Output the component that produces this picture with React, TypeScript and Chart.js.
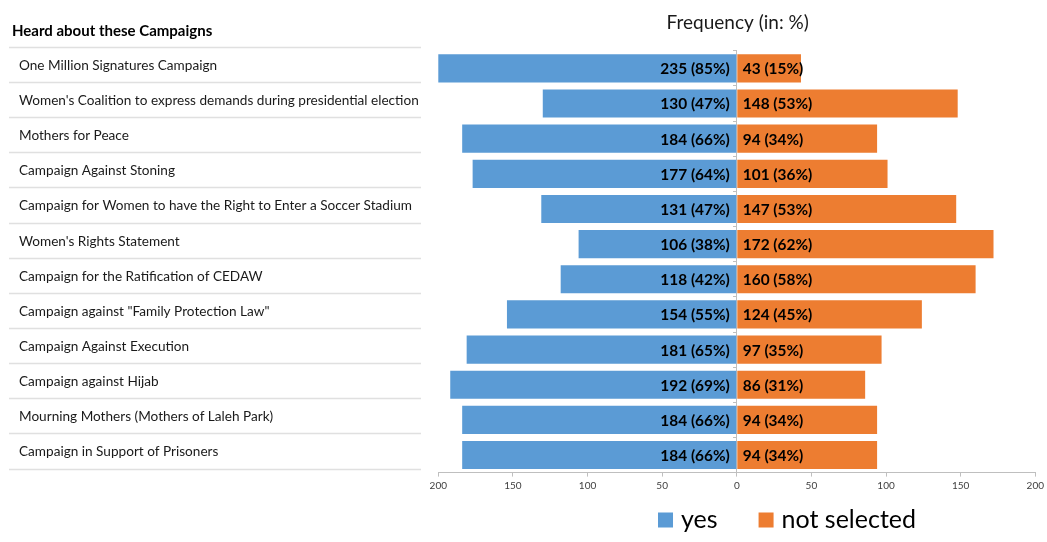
import React, { useEffect, useRef } from "react";
import { Chart, registerables } from "chart.js";

Chart.register(...registerables);

const categories = [
  "One Million Signatures Campaign",
  "Women's Coalition to express demands during presidential election",
  "Mothers for Peace",
  "Campaign Against Stoning",
  "Campaign for Women to have the Right to Enter a Soccer Stadium",
  "Women's Rights Statement",
  "Campaign for the Ratification of CEDAW",
  'Campaign against "Family Protection Law"',
  "Campaign Against Execution",
  "Campaign against Hijab",
  "Mourning Mothers (Mothers of Laleh Park)",
  "Campaign in Support of Prisoners",
];
const yesCounts = [235, 130, 184, 177, 131, 106, 118, 154, 181, 192, 184, 184];
const yesPercents = [85, 47, 66, 64, 47, 38, 42, 55, 65, 69, 66, 66];
const notSelectedCounts = [43, 148, 94, 101, 147, 172, 160, 124, 97, 86, 94, 94];
const notSelectedPercents = [15, 53, 34, 36, 53, 62, 58, 45, 35, 31, 34, 34];
const seriesNames = ["yes", "not selected"];
const tableHeader = "Heard about these Campaigns";
const chartTitle = "Frequency (in: %)";

const FONT = "Lato, 'Open Sans', sans-serif";
const BLUE = "#5B9BD5";
const ORANGE = "#ED7D31";

const tablePlugin = {
  id: "leftTable",
  afterDraw(chart: any) {
    const ctx = chart.ctx;
    const y = chart.scales.y;
    const labels = chart.data.labels as string[];
    const step = y.getPixelForValue(1) - y.getPixelForValue(0);
    const shift = -4;
    ctx.save();
    ctx.textBaseline = "middle";
    ctx.textAlign = "left";
    ctx.fillStyle = "#000000";
    ctx.font = `bold 15px ${FONT}`;
    ctx.fillText(tableHeader, 12, 31);
    ctx.strokeStyle = "#e0e0e0";
    ctx.lineWidth = 1.5;
    for (let i = 0; i <= labels.length; i++) {
      const ly = Math.round(y.getPixelForValue(i) - step / 2 + shift) + 0.5;
      ctx.beginPath();
      ctx.moveTo(9, ly);
      ctx.lineTo(421, ly);
      ctx.stroke();
    }
    ctx.font = `13.6px ${FONT}`;
    ctx.fillStyle = "#1a1a1a";
    labels.forEach((lab, i) => {
      ctx.fillText(lab, 19, y.getPixelForValue(i) + shift + 1);
    });
    ctx.restore();
  },
};

const valueLabelPlugin = {
  id: "valueLabels",
  afterDatasetsDraw(chart: any) {
    const ctx = chart.ctx;
    const zero = chart.scales.x.getPixelForValue(0);
    ctx.save();
    ctx.font = `bold 15.4px ${FONT}`;
    ctx.fillStyle = "#000000";
    ctx.textBaseline = "middle";
    const pcts = [yesPercents, notSelectedPercents];
    chart.data.datasets.forEach((ds: any, di: number) => {
      const meta = chart.getDatasetMeta(di);
      meta.data.forEach((bar: any, i: number) => {
        const txt = `${Math.abs(ds.data[i])} (${pcts[di][i]}%)`;
        if (di === 0) {
          ctx.textAlign = "right";
          ctx.fillText(txt, zero - 7, bar.y + 1);
        } else {
          ctx.textAlign = "left";
          ctx.fillText(txt, zero + 6, bar.y + 1);
        }
      });
    });
    ctx.restore();
  },
};

const legendPlugin = {
  id: "customLegend",
  afterDraw(chart: any) {
    const ctx = chart.ctx;
    ctx.save();
    ctx.font = `25px ${FONT}`;
    ctx.textBaseline = "middle";
    ctx.textAlign = "left";
    const box = 15;
    const gapBoxText = 8;
    const gapItems = 41;
    const items = chart.data.datasets.map((d: any) => ({
      label: d.label,
      color: d.backgroundColor,
      w: ctx.measureText(d.label).width,
    }));
    const total =
      items.reduce((s: number, it: any) => s + box + gapBoxText + it.w, 0) +
      gapItems * (items.length - 1);
    let x = 787 - total / 2;
    const cy = 520;
    items.forEach((it: any) => {
      ctx.fillStyle = it.color;
      ctx.fillRect(x, cy - box / 2, box, box);
      x += box + gapBoxText;
      ctx.fillStyle = "#000000";
      ctx.fillText(it.label, x, cy);
      x += it.w + gapItems;
    });
    ctx.restore();
  },
};

export default function App() {
  const ref = useRef<HTMLCanvasElement>(null);
  useEffect(() => {
    if (!ref.current) return;
    const chart = new Chart(ref.current, {
      type: "bar",
      data: {
        labels: categories,
        datasets: [
          {
            label: seriesNames[0],
            data: yesCounts.map((v) => -v),
            backgroundColor: BLUE,
            barPercentage: 0.8,
            categoryPercentage: 1,
          },
          {
            label: seriesNames[1],
            data: notSelectedCounts,
            backgroundColor: ORANGE,
            barPercentage: 0.8,
            categoryPercentage: 1,
          },
        ],
      },
      options: {
        indexAxis: "y",
        responsive: false,
        animation: false,
        layout: { padding: { left: 438.3, right: 9.9, top: 0, bottom: 49.4 } },
        plugins: {
          legend: { display: false },
          tooltip: { enabled: false },
          title: {
            display: true,
            text: chartTitle,
            color: "#1a1a1a",
            font: { family: FONT, size: 19, weight: "normal" },
            padding: { top: 11, bottom: 17 },
          },
        },
        scales: {
          x: {
            type: "linear",
            min: -200,
            max: 200,
            stacked: true,
            afterFit: (s: any) => {
              s.height = 20;
            },
            ticks: {
              stepSize: 50,
              callback: (v: any) => String(Math.abs(Number(v))),
              font: { family: FONT, size: 10 },
              color: "#404040",
              padding: 3,
              maxRotation: 0,
            },
            grid: {
              drawOnChartArea: false,
              drawTicks: true,
              tickLength: 4,
              color: "#bfbfbf",
            },
            border: { color: "#bfbfbf" },
          },
          y: {
            type: "category",
            stacked: true,
            position: { x: 0 } as any,
            offset: true,
            ticks: { display: false },
            grid: {
              offset: true,
              drawOnChartArea: false,
              drawTicks: true,
              tickLength: 3,
              color: "#bfbfbf",
            },
            border: { color: "#bfbfbf" },
          },
        },
      },
      plugins: [tablePlugin, valueLabelPlugin, legendPlugin],
    } as any);
    return () => chart.destroy();
  }, []);
  return (
    <div style={{ position: "fixed", left: 0, top: 0, width: 1047, height: 542, background: "#ffffff" }}>
      <canvas ref={ref} width={1047} height={542} style={{ display: "block" }} />
    </div>
  );
}
